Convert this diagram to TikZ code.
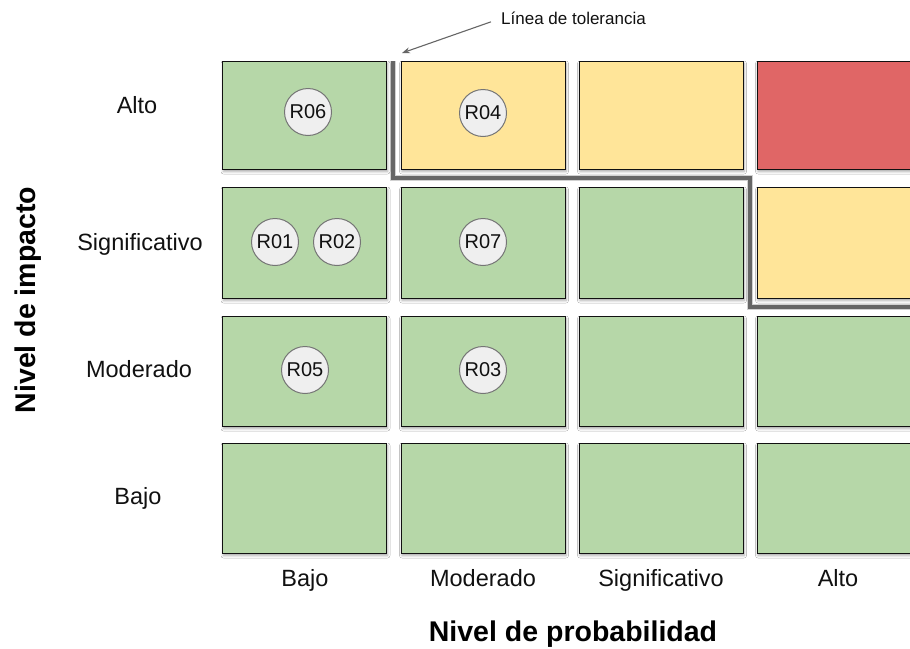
\documentclass[tikz,border=0pt]{standalone}
\usepackage{fontspec}
\setmainfont{Liberation Sans}
\usetikzlibrary{shadows.blur,arrows.meta}

\definecolor{riskgreen}{HTML}{B6D7A8}
\definecolor{riskyellow}{HTML}{FFE599}
\definecolor{riskred}{HTML}{E06666}
\definecolor{tokenfill}{HTML}{EFEFEF}
\definecolor{tokenline}{HTML}{757575}
\definecolor{linegray}{HTML}{666666}
\definecolor{textdark}{HTML}{111111}

\begin{document}
\begin{tikzpicture}[x=1pt,y=-1pt,
  softshadow/.style={blur shadow={shadow xshift=1pt, shadow yshift=-2.5pt,
      shadow blur radius=2.5pt, shadow opacity=35}},
  cell/.style={draw=textdark, line width=0.9pt, inner sep=0pt,
      minimum width=164pt, softshadow},
  token/.style={circle, draw=tokenline, line width=1pt, fill=tokenfill,
      minimum size=47pt, inner sep=0pt, font=\fontsize{20}{22}\selectfont,
      text=textdark},
  axislabel/.style={anchor=base, font=\fontsize{23.5}{27}\selectfont, text=textdark},
  axistitle/.style={anchor=base, font=\fontsize{28.5}{32}\selectfont\bfseries, text=black},
  tolerance/.style={draw=linegray, line width=4pt, line join=miter},
  toleranceshadow/.style={draw=black, opacity=0.18, line width=6pt, line join=miter},
  pointer/.style={draw=linegray, line width=1.1pt, -{Stealth[length=8pt,width=6pt]}}
]
\clip (0,0) rectangle (910,648);
\fill[white] (0,0) rectangle (910,648);

% impact row: Alto
\node[cell, fill=riskgreen,  minimum height=108pt] (c11) at (304.5,115) {};
\node[cell, fill=riskyellow, minimum height=108pt] (c12) at (483,115) {};
\node[cell, fill=riskyellow, minimum height=108pt] (c13) at (661,115) {};
\node[cell, fill=riskred,    minimum height=108pt, minimum width=174pt] (c14) at (844,115) {};
% impact row: Significativo
\node[cell, fill=riskgreen,  minimum height=111pt] (c21) at (304.5,242.5) {};
\node[cell, fill=riskgreen,  minimum height=111pt] (c22) at (483,242.5) {};
\node[cell, fill=riskgreen,  minimum height=111pt] (c23) at (661,242.5) {};
\node[cell, fill=riskyellow, minimum height=111pt, minimum width=174pt] (c24) at (844,242.5) {};
% impact row: Moderado
\node[cell, fill=riskgreen,  minimum height=110pt] (c31) at (304.5,371) {};
\node[cell, fill=riskgreen,  minimum height=110pt] (c32) at (483,371) {};
\node[cell, fill=riskgreen,  minimum height=110pt] (c33) at (661,371) {};
\node[cell, fill=riskgreen,  minimum height=110pt, minimum width=174pt] (c34) at (844,371) {};
% impact row: Bajo
\node[cell, fill=riskgreen,  minimum height=110pt] (c41) at (304.5,498) {};
\node[cell, fill=riskgreen,  minimum height=110pt] (c42) at (483,498) {};
\node[cell, fill=riskgreen,  minimum height=110pt] (c43) at (661,498) {};
\node[cell, fill=riskgreen,  minimum height=110pt, minimum width=174pt] (c44) at (844,498) {};

% risks
\node[token] (r06) at (308,112) {R06};
\node[token] (r04) at (483,113) {R04};
\node[token] (r01) at (275,242) {R01};
\node[token] (r02) at (337,242) {R02};
\node[token] (r07) at (483,242) {R07};
\node[token] (r05) at (305,370) {R05};
\node[token] (r03) at (483,370) {R03};

% tolerance line with its soft shadow
\coordinate (t0) at (393,61);
\coordinate (t1) at (393,178);
\coordinate (t2) at (750,178);
\coordinate (t3) at (750,307);
\coordinate (t4) at (915,307);
\begin{scope}[shift={(1.5,2)}]
  \draw[toleranceshadow] (t0) -- (t1) -- (t2) -- (t3) -- (t4);
\end{scope}
\draw[tolerance] (t0) -- (t1) -- (t2) -- (t3) -- (t4);

\node[anchor=base west, font=\fontsize{17}{19}\selectfont, text=textdark, inner sep=0pt]
  (tollabel) at (501,24) {Línea de tolerancia};
\coordinate (tolhead) at (402,53);
\draw[pointer] ([xshift=-10pt,yshift=-4pt]tollabel.west) -- (tolhead);

% impact labels
\node[axislabel] (iAlto) at (137,113) {Alto};
\node[axislabel] (iSig)  at (140,250) {Significativo};
\node[axislabel] (iMod)  at (139,377) {Moderado};
\node[axislabel] (iBajo) at (138,504) {Bajo};

% probability labels
\node[axislabel] (pBajo) at (305,586) {Bajo};
\node[axislabel] (pMod)  at (483,586) {Moderado};
\node[axislabel] (pSig)  at (661,586) {Significativo};
\node[axislabel] (pAlto) at (838,586) {Alto};

% axis titles
\node[axistitle] (ptitle) at (573,641) {Nivel de probabilidad};
\node[axistitle, rotate=90] (ititle) at (35,300) {Nivel de impacto};
\end{tikzpicture}
\end{document}
